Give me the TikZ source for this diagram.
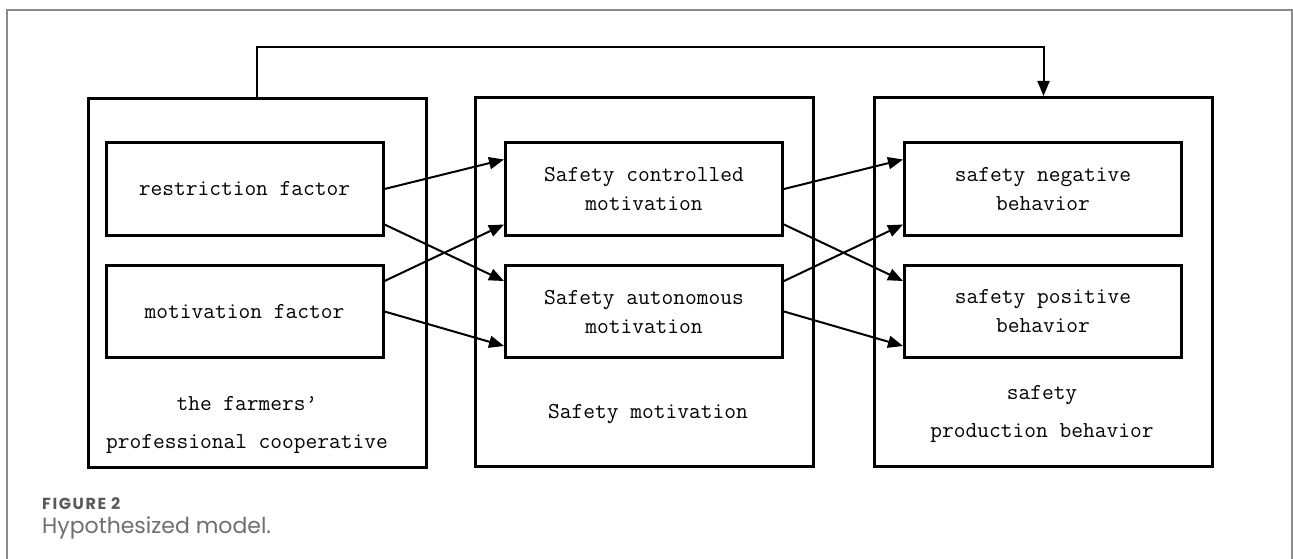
\documentclass[tikz,border=0pt]{standalone}
\usepackage{fontspec}
\newfontfamily\capfont{Poppins}
\newfontfamily\figfont[LetterSpace=10]{Poppins}
\usetikzlibrary{arrows.meta,calc}
\definecolor{framegray}{HTML}{8C8C8C}
\definecolor{figgray}{HTML}{5A5A5A}
\definecolor{capgray}{HTML}{6E6E6E}
\begin{document}
\begin{tikzpicture}[x=1pt,y=-1pt,
  outerbox/.style={draw,line width=3pt,minimum width=338pt,minimum height=369pt,inner sep=0pt},
  innerbox/.style={draw,line width=3pt,minimum width=277pt,minimum height=92pt,inner sep=0pt,align=center,font=\fontsize{22.8}{29}\selectfont\ttfamily},
  lbl/.style={align=center,inner sep=0pt,font=\fontsize{22.8}{38}\selectfont\ttfamily},
  arr/.style={line width=2pt,-{Triangle[length=15pt,width=12pt]}}]
\useasboundingbox (0,0) rectangle (1293,559);
\draw[framegray,line width=1.6pt] (7,575) -- (7,10) -- (1292,10) -- (1292,575);
% big boxes
\node[outerbox] (L) at (257,283) {};
\node[outerbox] (M) at (644,282) {};
\node[outerbox] (R) at (1043.5,282) {};
% inner boxes
\node[innerbox] (rf) at (244.5,189) {restriction factor};
\node[innerbox] (mf) at (244.5,311.5) {motivation factor};
\node[innerbox] (cm) at (644,189) {Safety controlled\\motivation};
\node[innerbox] (am) at (644,311.5) {Safety autonomous\\motivation};
\node[innerbox] (nb) at (1043,189) {safety negative\\behavior};
\node[innerbox] (pb) at (1043,311.5) {safety positive\\behavior};
% group labels
\node[lbl] (Ll) at (247,425) {the farmers’\\professional cooperative};
\node[lbl] (Ml) at (648,414) {Safety motivation};
\node[lbl] (Rl) at (1042,414) {safety\\production behavior};
% top connector
\draw[arr] (L.north) -- ++(0,-50) -| (R.north);
% left to middle
\draw[arr] (rf.east) -- ($(cm.north west)+(0,18)$);
\draw[arr] ($(rf.south east)+(0,-12)$) -- ($(am.north west)+(0,17)$);
\draw[arr] ($(mf.north east)+(0,17)$) -- ($(cm.south west)+(0,-12)$);
\draw[arr] (mf.east) -- ($(am.south west)+(0,-13)$);
% middle to right
\draw[arr] (cm.east) -- ($(nb.north west)+(0,18)$);
\draw[arr] ($(cm.south east)+(0,-12)$) -- ($(pb.north west)+(0,17)$);
\draw[arr] ($(am.north east)+(0,17)$) -- ($(nb.south west)+(0,-12)$);
\draw[arr] (am.east) -- ($(pb.south west)+(0,-13)$);
% caption
\node[anchor=base west,inner sep=0pt,text=figgray,font=\figfont\fontsize{16}{18}\selectfont] (fig) at (42,509) {\textbf{FIGURE 2}};
\node[anchor=base west,inner sep=0pt,text=capgray,font=\capfont\fontsize{22}{24}\selectfont] (cap) at (42,533) {Hypothesized model.};
\end{tikzpicture}
\end{document}
